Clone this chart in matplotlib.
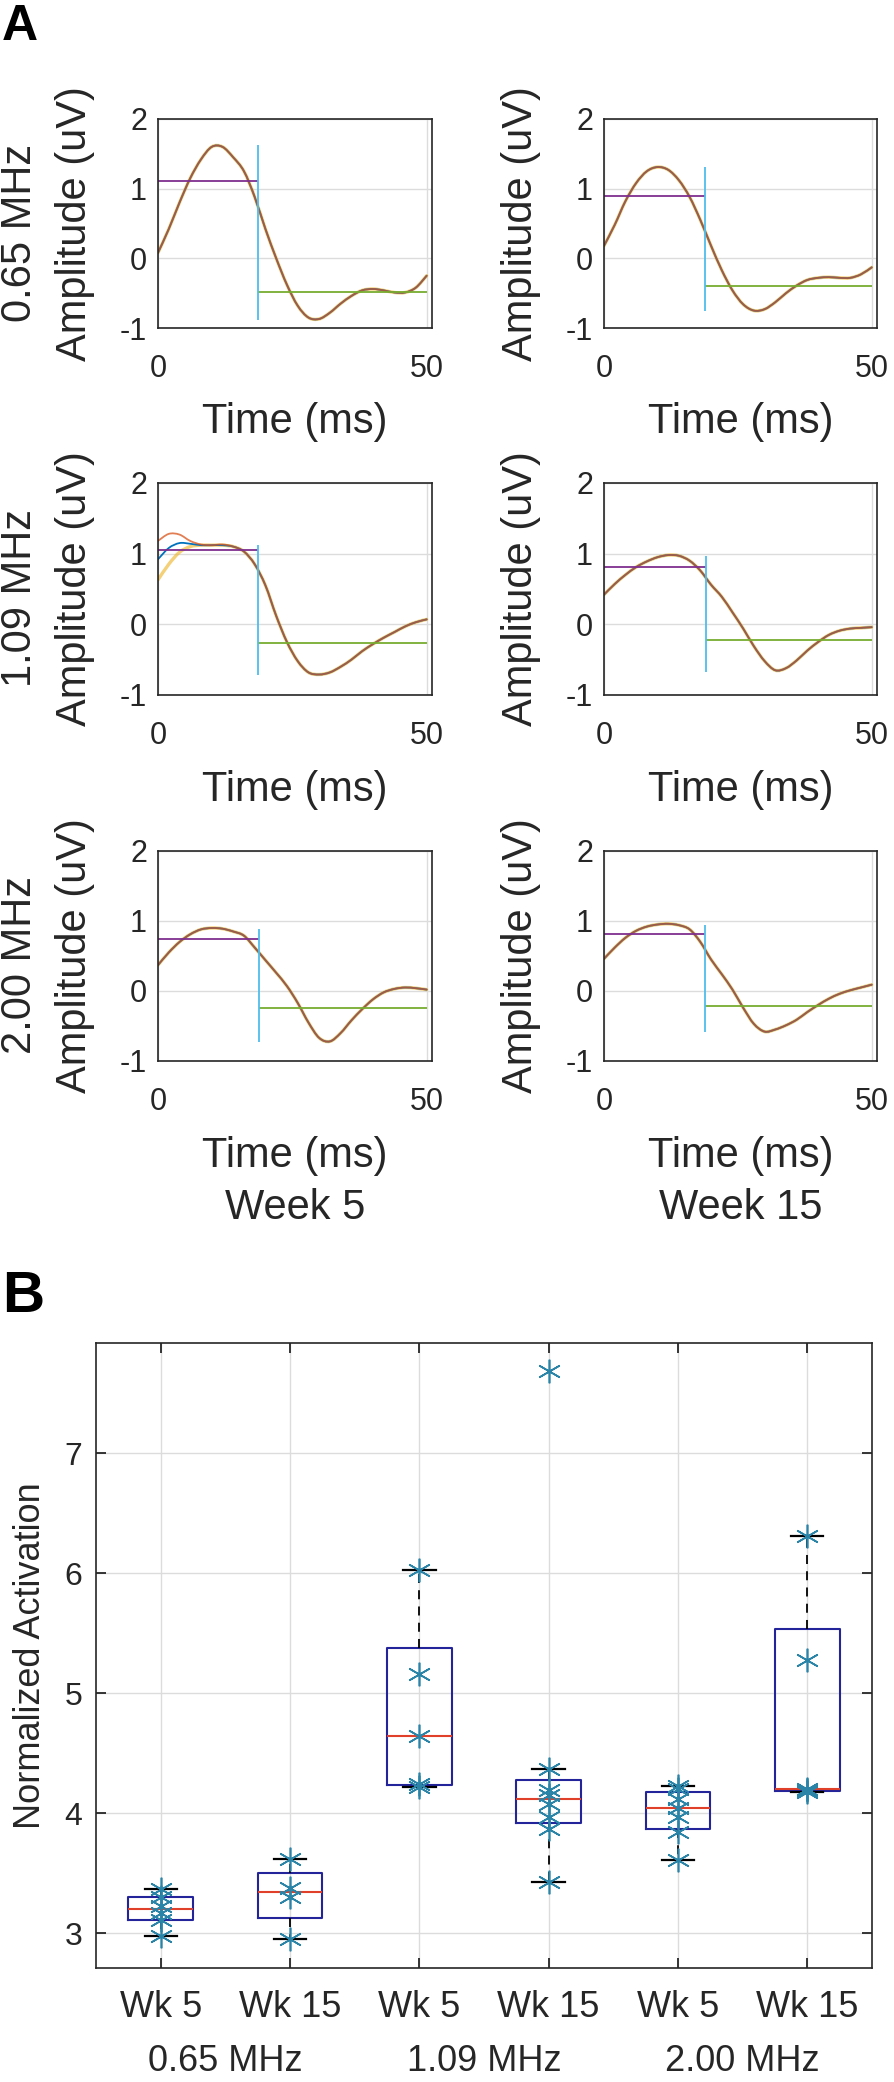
import numpy as np
import matplotlib.pyplot as plt
from matplotlib.path import Path
from matplotlib.patches import PathPatch

plt.rcParams['font.family'] = ['Liberation Sans', 'DejaVu Sans']
plt.rcParams['axes.unicode_minus'] = False

# ---------------- Panel A data ----------------
time_ms = [0, 2, 4, 6, 8, 10, 12, 14, 16, 18, 20, 22, 24, 26,
           28, 30, 32, 34, 36, 38, 40, 42, 44, 46, 48, 50]

freq_rows = ['0.65 MHz', '1.09 MHz', '2.00 MHz']
week_cols = ['Week 5', 'Week 15']

amp_065_wk5 = [0.08, 0.42, 0.80, 1.15, 1.42, 1.60, 1.60, 1.45, 1.25, 0.88, 0.42, 0.00, -0.38,
               -0.68, -0.85, -0.87, -0.78, -0.65, -0.54, -0.46, -0.44, -0.46, -0.49, -0.49, -0.42, -0.25]
amp_065_wk15 = [0.18, 0.48, 0.82, 1.08, 1.25, 1.31, 1.27, 1.12, 0.88, 0.55, 0.18, -0.17, -0.46,
                -0.66, -0.75, -0.73, -0.63, -0.50, -0.39, -0.31, -0.28, -0.27, -0.28, -0.28, -0.23, -0.13]
amp_109_wk5_blue = [0.92, 1.08, 1.15, 1.14, 1.12, 1.12, 1.12, 1.10, 1.03, 0.85, 0.55, 0.12, -0.25,
                    -0.52, -0.68, -0.71, -0.68, -0.60, -0.50, -0.38, -0.28, -0.19, -0.11, -0.03, 0.03, 0.07]
amp_109_wk5_orange = [1.18, 1.28, 1.27, 1.18, 1.13, 1.12, 1.13, 1.10, 1.03, 0.85, 0.55, 0.12, -0.25,
                      -0.52, -0.68, -0.71, -0.68, -0.60, -0.50, -0.38, -0.28, -0.19, -0.11, -0.03, 0.03, 0.07]
amp_109_wk5_yellow = [0.63, 0.85, 1.02, 1.10, 1.12, 1.12, 1.12, 1.10, 1.03, 0.85, 0.55, 0.12, -0.25,
                      -0.52, -0.68, -0.71, -0.68, -0.60, -0.50, -0.38, -0.28, -0.19, -0.11, -0.03, 0.03, 0.07]
amp_109_wk15 = [0.42, 0.57, 0.70, 0.81, 0.89, 0.95, 0.98, 0.97, 0.90, 0.76, 0.56, 0.39, 0.17,
                -0.06, -0.31, -0.52, -0.65, -0.62, -0.51, -0.37, -0.25, -0.15, -0.09, -0.06, -0.05, -0.04]
amp_200_wk5 = [0.37, 0.55, 0.70, 0.81, 0.88, 0.90, 0.89, 0.85, 0.79, 0.62, 0.44, 0.26, 0.07,
               -0.17, -0.45, -0.67, -0.72, -0.60, -0.42, -0.26, -0.12, -0.02, 0.03, 0.05, 0.04, 0.02]
amp_200_wk15 = [0.46, 0.62, 0.76, 0.86, 0.92, 0.95, 0.96, 0.94, 0.88, 0.70, 0.45, 0.24, 0.02,
                -0.24, -0.47, -0.58, -0.55, -0.49, -0.41, -0.30, -0.20, -0.11, -0.04, 0.01, 0.05, 0.09]

# traces per panel (blue, orange, yellow), row-major order
panel_traces = [
    (amp_065_wk5, amp_065_wk5, amp_065_wk5),
    (amp_065_wk15, amp_065_wk15, amp_065_wk15),
    (amp_109_wk5_blue, amp_109_wk5_orange, amp_109_wk5_yellow),
    (amp_109_wk15, amp_109_wk15, amp_109_wk15),
    (amp_200_wk5, amp_200_wk5, amp_200_wk5),
    (amp_200_wk15, amp_200_wk15, amp_200_wk15),
]
plateau_level = [1.11, 0.90, 1.05, 0.81, 0.75, 0.81]
tail_level = [-0.49, -0.40, -0.26, -0.22, -0.24, -0.21]
split_ms = [18.7, 18.8, 18.7, 19.0, 18.8, 18.9]
split_top = [1.62, 1.31, 1.12, 0.96, 0.89, 0.95]
split_bottom = [-0.88, -0.75, -0.72, -0.68, -0.73, -0.59]

# ---------------- Panel B data ----------------
group_labels = ['Wk 5', 'Wk 15', 'Wk 5', 'Wk 15', 'Wk 5', 'Wk 15']
freq_labels = ['0.65 MHz', '1.09 MHz', '2.00 MHz']
act_065_wk5 = [2.98, 3.11, 3.17, 3.23, 3.30, 3.37]
act_065_wk15 = [2.95, 3.30, 3.38, 3.62]
act_109_wk5 = [4.22, 4.24, 4.64, 5.16, 6.03]
act_109_wk15 = [3.43, 3.87, 3.97, 4.08, 4.15, 4.19, 4.37, 7.69]
act_200_wk5 = [3.61, 3.84, 3.97, 4.04, 4.12, 4.20, 4.23]
act_200_wk15 = [4.18, 4.19, 4.205, 5.28, 6.31]
activation = [act_065_wk5, act_065_wk15, act_109_wk5, act_109_wk15, act_200_wk5, act_200_wk15]

# MATLAB default colours
c_blue, c_orange, c_yellow = '#0072BD', '#D95319', '#EDB120'
c_purple, c_green, c_cyan = '#7E2F8E', '#77AC30', '#4DBEEE'
spine_col = '#262626'
grid_col = '#dcdcdc'

W, H = 894, 2082
fig = plt.figure(figsize=(W / 100, H / 100), dpi=100)


def px_axes(left, top, right, bottom):
    return fig.add_axes([left / W, 1 - bottom / H, (right - left) / W, (bottom - top) / H])


def smooth_line(ax, x, y, **kw):
    # draw a smooth curve through the read points (Catmull-Rom as cubic Beziers)
    p = np.column_stack([x, y]).astype(float)
    ext = np.vstack([p[0], p, p[-1]])
    verts = [p[0]]
    codes = [Path.MOVETO]
    for k in range(len(p) - 1):
        p0, p1, p2, p3 = ext[k], ext[k + 1], ext[k + 2], ext[k + 3]
        verts += [p1 + (p2 - p0) / 6, p2 - (p3 - p1) / 6, p2]
        codes += [Path.CURVE4] * 3
    ax.add_patch(PathPatch(Path(verts, codes), fill=False, capstyle='round', **kw))


col_x = [(158, 432), (604, 877)]
row_y = [(119, 328), (483, 695), (851, 1061)]

for i, traces in enumerate(panel_traces):
    r, c = divmod(i, 2)
    ax = px_axes(col_x[c][0], row_y[r][0], col_x[c][1], row_y[r][1])
    blue, orange, yellow = traces
    smooth_line(ax, time_ms, yellow, edgecolor=c_yellow, lw=2.4, alpha=0.6)
    smooth_line(ax, time_ms, blue, edgecolor=c_blue, lw=1.3)
    smooth_line(ax, time_ms, orange, edgecolor=c_orange, lw=1.3, alpha=0.75)
    ax.hlines(plateau_level[i], 0, split_ms[i], color=c_purple, lw=1.3)
    ax.hlines(tail_level[i], split_ms[i], time_ms[-1], color=c_green, lw=1.3)
    ax.vlines(split_ms[i], split_bottom[i], split_top[i], color=c_cyan, lw=1.3)

    ax.set_xlim(0, 51)
    ax.set_ylim(-1, 2)
    ax.set_xticks([0, 50])
    ax.set_yticks([-1, 0, 1, 2])
    ax.grid(True, color=grid_col, lw=1)
    ax.set_axisbelow(True)
    ax.tick_params(direction='in', length=0, labelsize=22, colors=spine_col)
    ax.tick_params(axis='x', pad=19)
    ax.tick_params(axis='y', pad=8)
    for s in ax.spines.values():
        s.set_color(spine_col)
        s.set_linewidth(1.2)

    ax.set_xlabel('Time (ms)', fontsize=30, color=spine_col)
    ax.xaxis.label.set_va('center')
    ax.xaxis.set_label_coords(0.5, -0.45)
    ax.set_ylabel('Amplitude (uV)', fontsize=30, color=spine_col)
    ax.yaxis.label.set_va('center')
    ax.yaxis.set_label_coords(-0.303, 0.5)

    if c == 0:
        yc = (row_y[r][0] + row_y[r][1]) / 2 + 9
        fig.text(20 / W, 1 - yc / H, freq_rows[r], rotation=90, fontsize=30,
                 ha='center', va='center', color=spine_col)
    if r == 2:
        ax.text(0.5, -0.70, week_cols[c], transform=ax.transAxes, fontsize=30,
                ha='center', va='center', color=spine_col)

fig.text(2 / W, 1 - 4 / H, 'A', fontsize=36, fontweight='bold', ha='left', va='top')
fig.text(2 / W, 1 - 1270 / H, 'B', fontsize=42, fontweight='bold', ha='left', va='top')

# ---------------- Panel B ----------------
axb = px_axes(96, 1343, 872, 1968)
positions = np.arange(1, len(activation) + 1)
stats = []
for vals in activation:
    v = np.asarray(vals)
    q1, med, q3 = np.percentile(v, [25, 50, 75], method='hazen')
    iqr = q3 - q1
    lo = v[v >= q1 - 1.5 * iqr].min()
    hi = v[v <= q3 + 1.5 * iqr].max()
    stats.append(dict(med=med, q1=q1, q3=q3, whislo=lo, whishi=hi, fliers=[]))

axb.bxp(stats, positions=positions, widths=0.5, capwidths=0.25, showfliers=False,
        boxprops=dict(color='#23239a', lw=1.5),
        medianprops=dict(color='#e0402a', lw=1.5),
        whiskerprops=dict(color='black', lw=1.3, linestyle=(0, (5, 4))),
        capprops=dict(color='black', lw=1.6), zorder=2)

for p, vals in zip(positions, activation):
    axb.plot(np.full(len(vals), p), vals, linestyle='none', marker=(6, 2, 0),
             markersize=17, markeredgewidth=1.2, color='#2a84a8', zorder=3)

axb.set_xlim(0.5, 6.5)
axb.set_ylim(2.71, 7.92)
axb.set_yticks([3, 4, 5, 6, 7])
axb.set_xticks(positions)
axb.set_xticklabels(group_labels)
axb.grid(True, color=grid_col, lw=1)
axb.set_axisbelow(True)
axb.tick_params(direction='in', length=7, width=1.3, top=True, right=True, colors=spine_col)
axb.tick_params(axis='x', labelsize=26, pad=16)
axb.tick_params(axis='y', labelsize=23, pad=10)
for s in axb.spines.values():
    s.set_color(spine_col)
    s.set_linewidth(1.2)
axb.set_ylabel('Normalized Activation', fontsize=26, color=spine_col)
axb.yaxis.label.set_va('center')
axb.yaxis.set_label_coords(-0.084, 0.5)

for k, lab in enumerate(freq_labels):
    axb.text(positions[2 * k] + 0.5, -0.149, lab, transform=axb.get_xaxis_transform(),
             fontsize=26, ha='center', va='center', color=spine_col)

fig.savefig('out.png', dpi=100)
